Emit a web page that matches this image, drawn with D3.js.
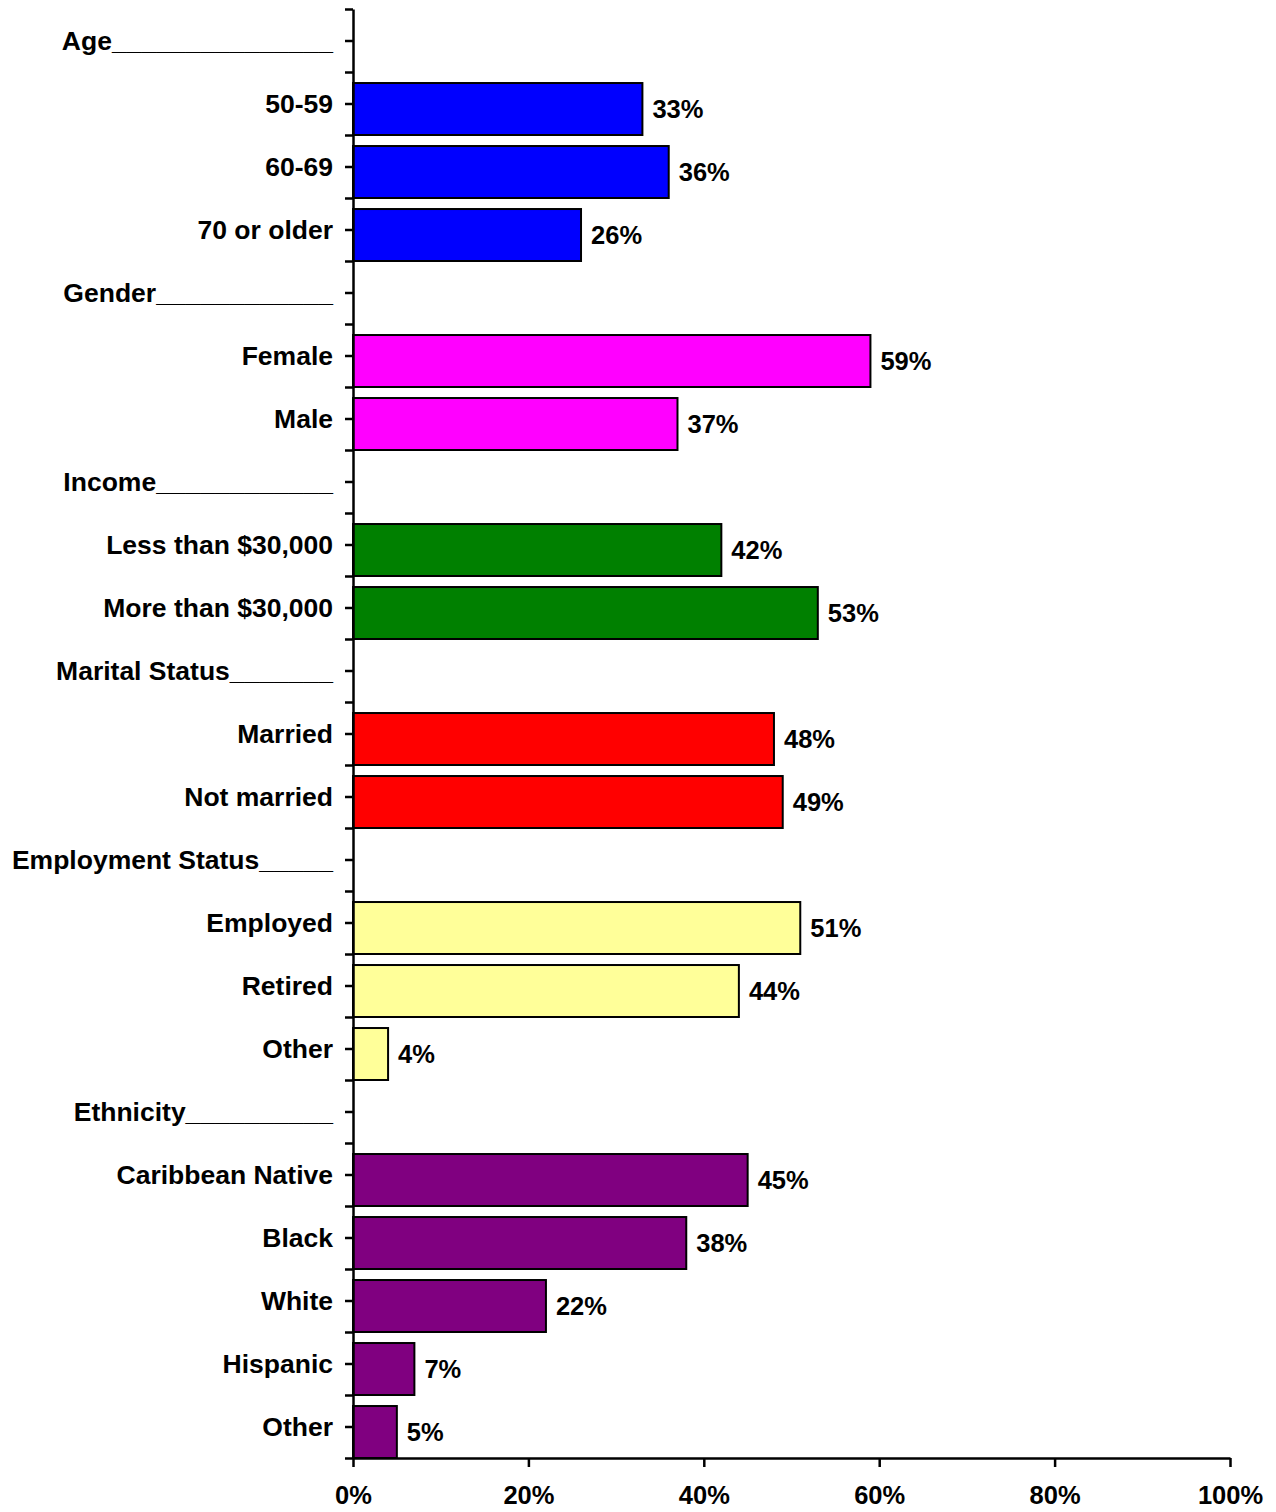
<!DOCTYPE html>
<html>
<head>
<meta charset="utf-8">
<script src="https://cdn.jsdelivr.net/npm/d3@7"></script>
<style>
  body { margin: 0; background: #fff; }
  svg text { font-family: "Liberation Sans", Arial, sans-serif; font-weight: bold; fill: #000; }
</style>
</head>
<body>
<svg id="chart" width="1276" height="1512"></svg>
<script>
// Row labels, top to bottom (headers have null values)
const categories = [
  "Age_______________", "50-59", "60-69", "70 or older",
  "Gender____________", "Female", "Male",
  "Income____________", "Less than $30,000", "More than $30,000",
  "Marital Status_______", "Married", "Not married",
  "Employment Status_____", "Employed", "Retired", "Other",
  "Ethnicity__________", "Caribbean Native", "Black", "White", "Hispanic", "Other"
];
const values = [
  null, 33, 36, 26,
  null, 59, 37,
  null, 42, 53,
  null, 48, 49,
  null, 51, 44, 4,
  null, 45, 38, 22, 7, 5
];
const groups = [
  "Age", "Age", "Age", "Age",
  "Gender", "Gender", "Gender",
  "Income", "Income", "Income",
  "Marital", "Marital", "Marital",
  "Employment", "Employment", "Employment", "Employment",
  "Ethnicity", "Ethnicity", "Ethnicity", "Ethnicity", "Ethnicity", "Ethnicity"
];
const groupNames = ["Age", "Gender", "Income", "Marital", "Employment", "Ethnicity"];
const groupColors = ["#0000FF", "#FF00FF", "#008000", "#FF0000", "#FFFF99", "#800080"];
const xTicks = [0, 20, 40, 60, 80, 100];

(function () {
const svg = d3.select("#chart");
const mLeft = 353, mRight = 1230, mTop = 9, mBottom = 1458;

const x = d3.scaleLinear().domain([0, 100]).range([mLeft, mRight]);
const rows = d3.range(categories.length);
const y = d3.scaleBand().domain(rows).range([mTop, mBottom]).padding(0);
const yLin = d3.scaleLinear().domain([0, categories.length]).range([mTop, mBottom]);
const color = d3.scaleOrdinal().domain(groupNames).range(groupColors);
const bw = y.bandwidth();

const data = rows.map(i => ({i, label: categories[i], v: values[i], g: groups[i]}));
const barData = data.filter(d => d.v !== null);

// bars
svg.append("g").selectAll("rect").data(barData).join("rect")
  .attr("x", x(0))
  .attr("y", d => y(d.i) + bw * 0.175)
  .attr("width", d => x(d.v) - x(0))
  .attr("height", bw * 0.825)
  .attr("fill", d => color(d.g))
  .attr("stroke", "#000")
  .attr("stroke-width", 2);

// value labels
svg.append("g").selectAll("text").data(barData).join("text")
  .attr("x", d => x(d.v) + 10)
  .attr("y", d => y(d.i) + bw * 0.175 + bw * 0.825 / 2)
  .attr("dominant-baseline", "central")
  .style("font-size", "25.5px")
  .text(d => d.v + "%");

// y axis
const yAxis = d3.axisLeft(yLin)
  .tickValues(d3.range(0, categories.length + 0.5, 0.5))
  .tickFormat("")
  .tickSize(8)
  .tickSizeOuter(0);
const gy = svg.append("g").attr("transform", `translate(${mLeft},0)`).call(yAxis);
gy.select(".domain").attr("stroke-width", 2.5);
gy.selectAll(".tick line").attr("stroke-width", 2.5);

// category labels
svg.append("g").selectAll("text").data(data).join("text")
  .attr("x", 333)
  .attr("y", d => y(d.i) + bw / 2)
  .attr("text-anchor", "end")
  .attr("dominant-baseline", "central")
  .style("font-size", "26.5px")
  .text(d => d.label);

// x axis
const xAxis = d3.axisBottom(x)
  .tickValues(xTicks)
  .tickFormat(d => d + "%")
  .tickSize(9)
  .tickSizeOuter(0)
  .tickPadding(19);
const gx = svg.append("g").attr("transform", `translate(0,${mBottom})`).call(xAxis);
gx.select(".domain").attr("stroke-width", 2.5);
gx.selectAll(".tick line").attr("stroke-width", 2.5);
gx.selectAll(".tick text")
  .style("font-size", "25.5px")
  .style("font-family", "'Liberation Sans', Arial, sans-serif")
  .style("font-weight", "bold")
  .attr("fill", "#000");
})();
</script>
</body>
</html>
